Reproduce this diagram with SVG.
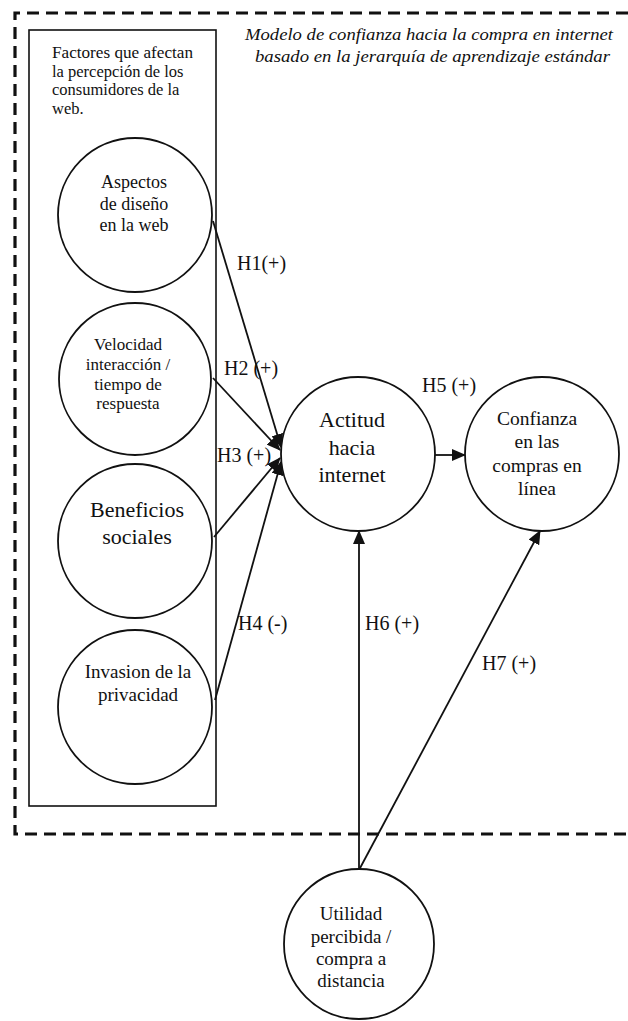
<svg xmlns="http://www.w3.org/2000/svg" width="628" height="1021" viewBox="0 0 628 1021">
<style>
text{font-family:'Liberation Serif','DejaVu Serif',serif;fill:#111;}
.n{fill:#fff;stroke:#111;stroke-width:1.8;}
.c{stroke:#111;stroke-width:1.8;fill:none;}
.lbl{font-size:20px;}
</style>
<defs>
<marker id="ah" markerUnits="userSpaceOnUse" markerWidth="14" markerHeight="12" refX="13" refY="6" orient="auto">
<path d="M0,0 L14,6 L0,12 Z" fill="#111"/>
</marker>
</defs>
<rect width="628" height="1021" fill="#fff"/>
<g id="frame">
<path d="M628,13 H15 V834 H628" fill="none" stroke="#111" stroke-width="3.2" stroke-dasharray="12,7"/>
<text font-family="Liberation Serif" font-style="italic" font-size="17" x="245" y="40" textLength="368" lengthAdjust="spacingAndGlyphs">Modelo de confianza hacia la compra en internet</text>
<text font-family="Liberation Serif" font-style="italic" font-size="17" x="255" y="62" textLength="355" lengthAdjust="spacingAndGlyphs">basado en la jerarquía de aprendizaje estándar</text>
</g>
<g id="factores">
<rect x="29" y="30" width="187" height="776" fill="none" stroke="#111" stroke-width="1.6"/>
<text font-size="16.5" x="52" y="58" textLength="141" lengthAdjust="spacingAndGlyphs">Factores que afectan</text>
<text font-size="16.5" x="52" y="77">la percepción de los</text>
<text font-size="16.5" x="52" y="95">consumidores de la</text>
<text font-size="16.5" x="52" y="114">web.</text>
</g>
<g id="connectors">
<line class="c" x1="213" y1="221" x2="281" y2="447" marker-end="url(#ah)"/>
<line class="c" x1="213" y1="378" x2="280" y2="450" marker-end="url(#ah)"/>
<line class="c" x1="214" y1="537" x2="280" y2="458" marker-end="url(#ah)"/>
<line class="c" x1="215" y1="700" x2="281" y2="462" marker-end="url(#ah)"/>
<line class="c" x1="435" y1="455" x2="465" y2="455" marker-end="url(#ah)"/>
<line class="c" x1="359" y1="870" x2="359" y2="531" marker-end="url(#ah)"/>
<line class="c" x1="359" y1="870" x2="540" y2="531" marker-end="url(#ah)"/>
<text class="lbl" x="237" y="270">H1(+)</text>
<text class="lbl" x="224" y="375">H2 (+)</text>
<text class="lbl" x="217" y="462">H3 (+)</text>
<text class="lbl" x="238" y="630">H4 (-)</text>
<text class="lbl" x="422" y="392">H5 (+)</text>
<text class="lbl" x="365" y="630">H6 (+)</text>
<text class="lbl" x="482" y="670">H7 (+)</text>
</g>
<g id="aspectos">
<circle class="n" cx="135" cy="215" r="77"/>
<text font-size="18" text-anchor="middle" x="134" y="188">Aspectos</text>
<text font-size="18" text-anchor="middle" x="134" y="210">de diseño</text>
<text font-size="18" text-anchor="middle" x="134" y="231">en la web</text>
</g>
<g id="velocidad">
<circle class="n" cx="135" cy="379" r="76"/>
<text font-size="17" text-anchor="middle" x="128" y="350">Velocidad</text>
<text font-size="17" text-anchor="middle" x="128" y="370">interacción /</text>
<text font-size="17" text-anchor="middle" x="128" y="390">tiempo de</text>
<text font-size="17" text-anchor="middle" x="128" y="409">respuesta</text>
</g>
<g id="beneficios">
<circle class="n" cx="135" cy="541" r="77"/>
<text font-size="22" text-anchor="middle" x="137" y="517">Beneficios</text>
<text font-size="22" text-anchor="middle" x="137" y="544">sociales</text>
</g>
<g id="invasion">
<circle class="n" cx="135" cy="707" r="77"/>
<text font-size="19" text-anchor="middle" x="138" y="678">Invasion de la</text>
<text font-size="19" text-anchor="middle" x="138" y="701">privacidad</text>
</g>
<g id="actitud">
<circle class="n" cx="358" cy="454" r="77"/>
<text font-size="22" text-anchor="middle" x="352" y="427">Actitud</text>
<text font-size="22" text-anchor="middle" x="352" y="455">hacia</text>
<text font-size="22" text-anchor="middle" x="352" y="482">internet</text>
</g>
<g id="confianza">
<circle class="n" cx="542" cy="454" r="77"/>
<text font-size="19.5" text-anchor="middle" x="537" y="425">Confianza</text>
<text font-size="19.5" text-anchor="middle" x="537" y="448">en las</text>
<text font-size="19.5" text-anchor="middle" x="537" y="472">compras en</text>
<text font-size="19.5" text-anchor="middle" x="537" y="495">línea</text>
</g>
<g id="utilidad">
<circle class="n" cx="359" cy="944" r="75"/>
<text font-size="19" text-anchor="middle" x="351" y="920">Utilidad</text>
<text font-size="19" text-anchor="middle" x="351" y="943">percibida /</text>
<text font-size="19" text-anchor="middle" x="351" y="965">compra a</text>
<text font-size="19" text-anchor="middle" x="351" y="987">distancia</text>
</g>
</svg>
